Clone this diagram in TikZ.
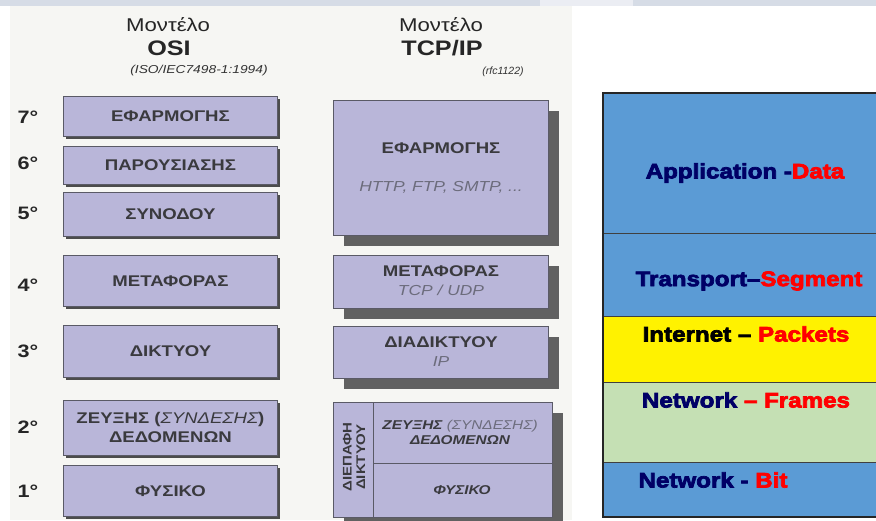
\documentclass[tikz,border=0pt]{standalone}
\usepackage{fontspec}
\setmainfont{Liberation Sans}
% slightly widened face used for the scanned layer chart
\newfontfamily\wide[FakeStretch=1.2]{Liberation Sans}
% heavy face for the data-unit table
\newfontfamily\heavy[FakeBold=3.5, FakeStretch=1.15]{Liberation Sans Bold}
\usetikzlibrary{shadows}
\definecolor{lav}{HTML}{B9B6D9}
\definecolor{boxline}{HTML}{5A5A66}
\definecolor{boxtext}{HTML}{3A3A3E}
\definecolor{subtext}{HTML}{6C6C7C}
\definecolor{paper}{HTML}{F6F6F3}
\definecolor{strip}{HTML}{D6DCE6}
\definecolor{layblue}{HTML}{5B9BD5}
\definecolor{laygreen}{HTML}{C5E0B4}
\definecolor{navy}{HTML}{000066}
\tikzset{
  layerbox/.style={draw=boxline, line width=0.9pt, fill=lav, anchor=north west,
    inner sep=0pt, align=center, text=boxtext, font=\wide\bfseries\fontsize{15.5}{19}\selectfont},
  osishadow/.style={drop shadow={shadow xshift=3pt, shadow yshift=-3pt, fill=black!70, opacity=1}},
  tcpshadow/.style={drop shadow={shadow xshift=11pt, shadow yshift=-11pt, fill=black!62, opacity=1}},
  levelnum/.style={font=\wide\bfseries\fontsize{18}{20}\selectfont, text=black!85},
  head/.style={font=\wide\fontsize{18.5}{21}\selectfont, text=black!85},
  headbold/.style={font=\wide\bfseries\fontsize{21}{24}\selectfont, text=black!85},
  boxhead/.style={font=\wide\bfseries\fontsize{15.5}{19}\selectfont, text=boxtext},
  sub/.style={font=\wide\itshape\fontsize{14.5}{17}\selectfont, text=subtext},
  band/.style={draw=black!75, line width=0.6pt},
  bandtext/.style={font=\heavy\fontsize{21}{24}\selectfont, text=navy, inner sep=0pt}
}
\begin{document}
\begin{tikzpicture}[x=1pt,y=-1pt]
\useasboundingbox (0,0) rectangle (876,520);
\fill[white] (0,0) rectangle (876,520);
% page strip and photo background
\fill[strip] (0,0) rectangle (876,6);
\fill[strip!50!white] (540,0) rectangle (633,6);
\fill[paper] (10,6) rectangle (572,520);

% headings
\node[head] (osititle) at (168,25) {Μοντέλο};
\node[headbold] (osiname) at (169,48) {OSI};
\node[font=\wide\itshape\fontsize{11.5}{13}\selectfont, text=black!80] (osiref) at (199,71) {(ISO/IEC7498-1:1994)};
\node[head] (tcptitle) at (441,25) {Μοντέλο};
\node[headbold] (tcpname) at (442,48) {TCP/IP};
\node[font=\itshape\fontsize{10.5}{12}\selectfont, text=black!80] (tcpref) at (503,72) {(rfc1122)};

% OSI layers
\node[layerbox, osishadow, minimum width=214pt, minimum height=40pt] (o7) at (63,96) {ΕΦΑΡΜΟΓΗΣ};
\node[layerbox, osishadow, minimum width=214pt, minimum height=38pt] (o6) at (63,146) {ΠΑΡΟΥΣΙΑΣΗΣ};
\node[layerbox, osishadow, minimum width=214pt, minimum height=44pt] (o5) at (63,192) {ΣΥΝΟΔΟΥ};
\node[layerbox, osishadow, minimum width=214pt, minimum height=51pt] (o4) at (63,255) {ΜΕΤΑΦΟΡΑΣ};
\node[layerbox, osishadow, minimum width=214pt, minimum height=52pt] (o3) at (63,325) {ΔΙΚΤΥΟΥ};
\node[layerbox, osishadow, minimum width=214pt, minimum height=55pt] (o2) at (63,400)
  {ΖΕΥΞΗΣ ({\mdseries\itshape ΣΥΝΔΕΣΗΣ})\\ΔΕΔΟΜΕΝΩΝ};
\node[layerbox, osishadow, minimum width=214pt, minimum height=51pt] (o1) at (63,465) {ΦΥΣΙΚΟ};

% level numbers
\node[levelnum] (n7) at (28,117) {7°};
\node[levelnum] (n6) at (28,163) {6°};
\node[levelnum] (n5) at (28,213) {5°};
\node[levelnum] (n4) at (28,285) {4°};
\node[levelnum] (n3) at (28,351) {3°};
\node[levelnum] (n2) at (28,427) {2°};
\node[levelnum] (n1) at (28,491) {1°};

% TCP/IP layers
\node[layerbox, tcpshadow, minimum width=215pt, minimum height=135pt] (t4) at (333,100) {};
\node[boxhead] (t4a) at (441,148) {ΕΦΑΡΜΟΓΗΣ};
\node[sub] (t4b) at (441,187) {HTTP, FTP, SMTP, ...};
\node[layerbox, tcpshadow, minimum width=215pt, minimum height=53pt] (t3) at (333,255) {};
\node[boxhead] (t3a) at (441,271) {ΜΕΤΑΦΟΡΑΣ};
\node[sub] (t3b) at (441,290) {TCP / UDP};
\node[layerbox, tcpshadow, minimum width=215pt, minimum height=52pt] (t2) at (333,326) {};
\node[boxhead] (t2a) at (441,342) {ΔΙΑΔΙΚΤΥΟΥ};
\node[sub] (t2b) at (441,362) {IP};
\node[layerbox, tcpshadow, minimum width=219pt, minimum height=115pt] (t1) at (333,402) {};
\draw[boxline, line width=0.9pt] (373,402) -- (373,517);
\draw[boxline, line width=0.9pt] (373,463) -- (552,463);
\node[rotate=90, align=center, text=boxtext, font=\wide\bfseries\fontsize{12.5}{13.5}\selectfont] (iface) at (354,457) {ΔΙΕΠΑΦΗ\\ΔΙΚΤΥΟΥ};
\node[align=center, text=boxtext, font=\wide\bfseries\itshape\fontsize{12.8}{15}\selectfont] (t1a) at (460,432)
  {ΖΕΥΞΗΣ {\mdseries\color{subtext}(ΣΥΝΔΕΣΗΣ)}\\ΔΕΔΟΜΕΝΩΝ};
\node[text=boxtext, font=\wide\bfseries\itshape\fontsize{12.8}{15}\selectfont] (t1b) at (462,490) {ΦΥΣΙΚΟ};

% data units table
\fill[layblue] (603,93) rectangle (880,233);
\fill[layblue] (603,233) rectangle (880,316);
\fill[yellow] (603,316) rectangle (880,382);
\fill[laygreen] (603,382) rectangle (880,462);
\fill[layblue] (603,462) rectangle (880,517);
\draw[band] (603,233) -- (880,233);
\draw[band] (603,316) -- (880,316);
\draw[band] (603,382) -- (880,382);
\draw[band] (603,462) -- (880,462);
\draw[black!85, line width=1.6pt] (880,93) -- (603,93) -- (603,517) -- (880,517);
\node[bandtext] (uapp) at (745,173) {Application -\textcolor{red}{Data}};
\node[bandtext] (utra) at (749,281) {Transport–\textcolor{red}{Segment}};
\node[bandtext, text=black] (uint) at (746,334) {Internet – \textcolor{red}{Packets}};
\node[bandtext] (unet) at (746,400) {Network \textcolor{red}{– Frames}};
\node[bandtext] (ubit) at (713,480) {Network - \textcolor{red}{Bit}};
\end{tikzpicture}
\end{document}
